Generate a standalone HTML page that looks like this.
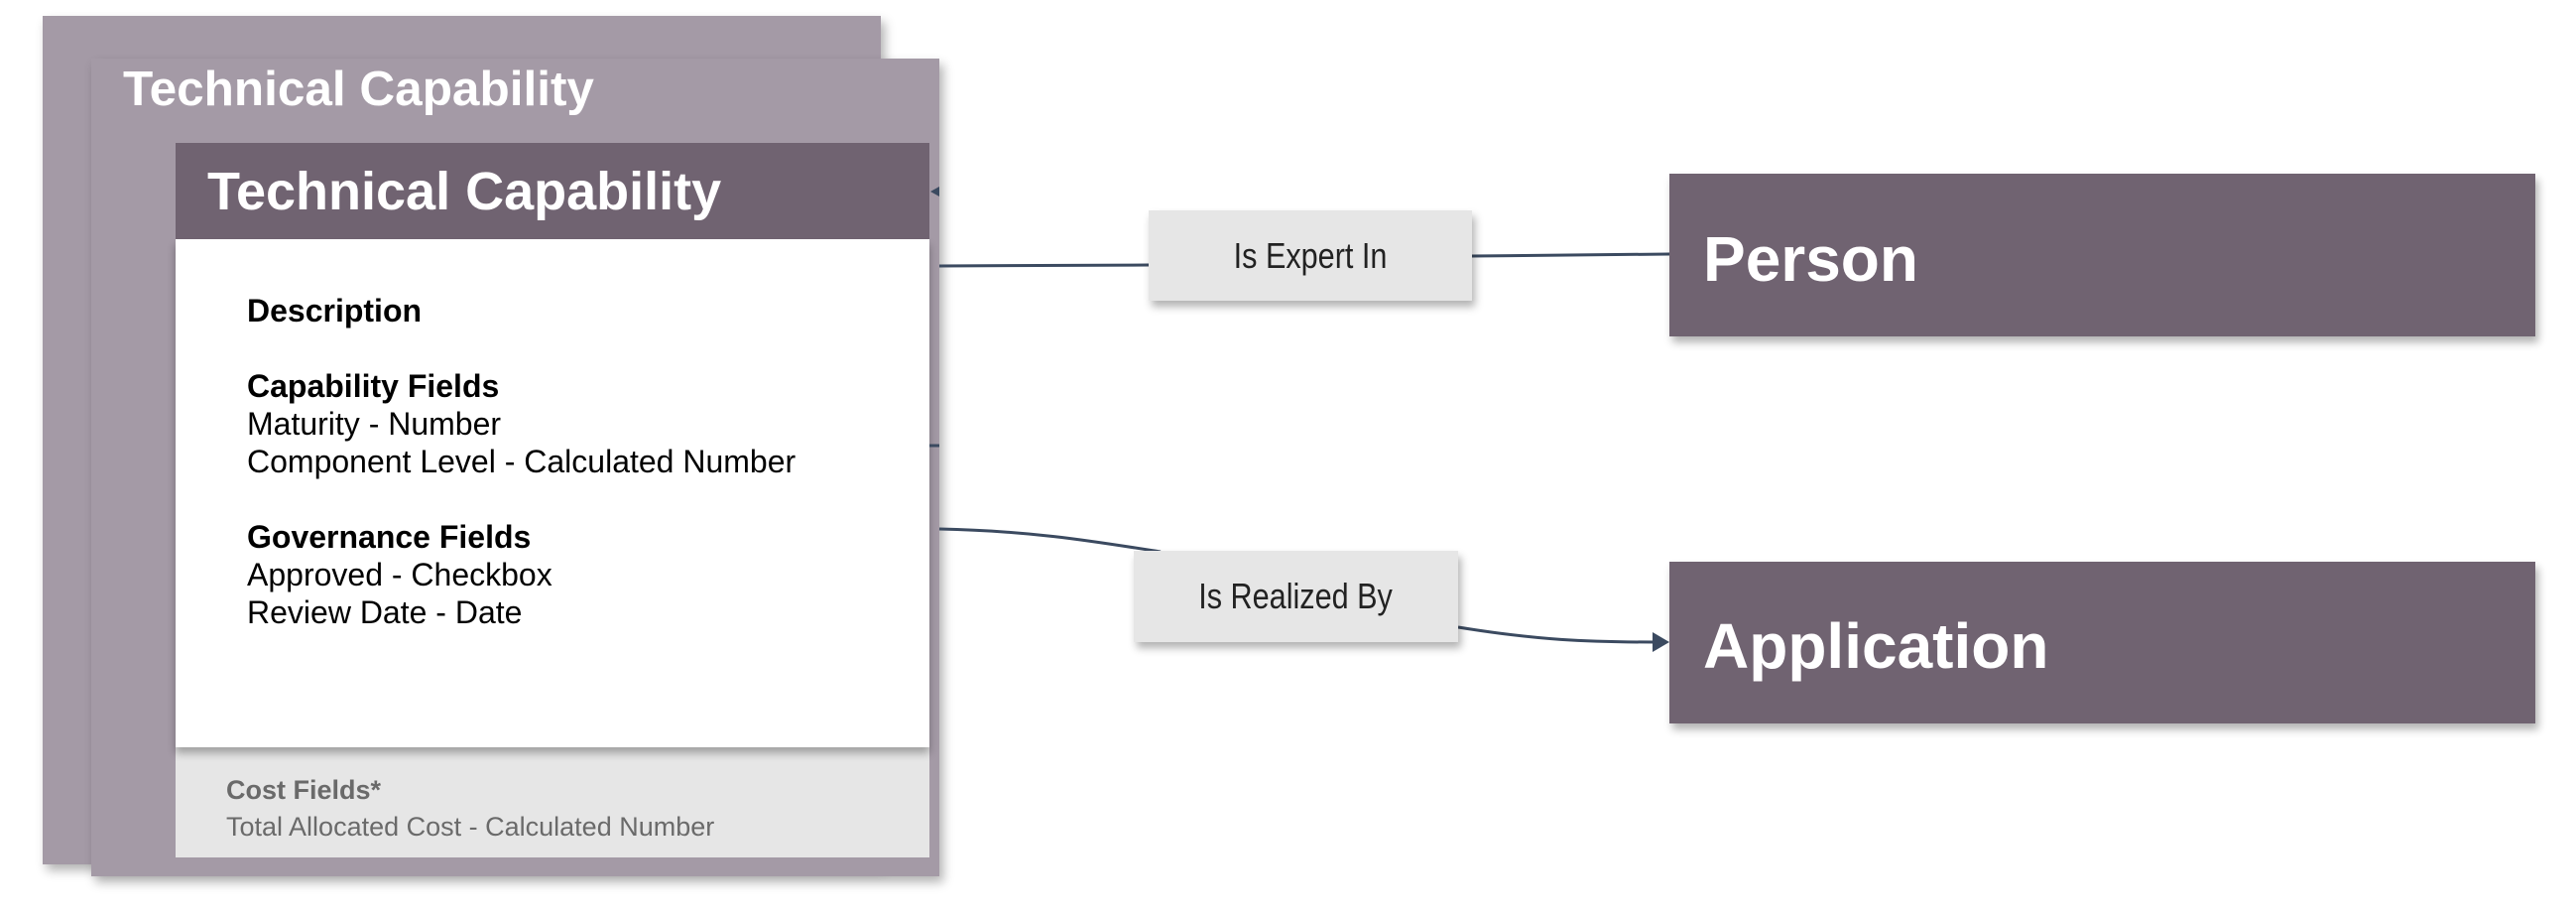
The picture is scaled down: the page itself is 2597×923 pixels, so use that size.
<!DOCTYPE html>
<html><head><meta charset="utf-8"><style>
html,body{margin:0;padding:0;background:#fff;}
body{width:2597px;height:923px;position:relative;overflow:hidden;font-family:"Liberation Sans",Arial,sans-serif;}
.abs{position:absolute;}
.back{background:#a49aa6;box-shadow:4px 6px 10px rgba(0,0,0,0.3);}
.hdr{background:#706371;}
.lbl{background:#e6e6e6;box-shadow:3px 6px 8px rgba(0,0,0,0.3);color:#222;font-size:36px;display:flex;align-items:center;justify-content:center;}
.lbl span{display:inline-block;transform:scaleX(0.85);}
.t{position:absolute;white-space:nowrap;}
</style></head><body>
<div class="abs back" style="left:43px;top:16px;width:845px;height:855px;"></div>
<div class="abs back" style="left:92px;top:59px;width:855px;height:824px;"></div>
<div class="t" style="left:124px;top:61px;font-size:49.5px;font-weight:bold;color:#fff;">Technical Capability</div>
<div class="abs" style="left:177px;top:144px;width:760px;height:720px;background:#e6e6e6;"></div>
<div class="abs" style="left:177px;top:241px;width:760px;height:512px;background:#fff;box-shadow:0 6px 8px rgba(0,0,0,0.3);"></div>
<div class="abs hdr" style="left:177px;top:144px;width:760px;height:97px;"></div>
<div class="t" style="left:209px;top:162px;font-size:54px;font-weight:bold;color:#fff;">Technical Capability</div>
<div class="t" style="left:249px;top:294px;font-size:32px;line-height:38px;color:#000;">
<b>Description</b><br><br><b>Capability Fields</b><br>Maturity - Number<br>Component Level - Calculated Number<br><br><b>Governance Fields</b><br>Approved - Checkbox<br>Review Date - Date
</div>
<div class="t" style="left:228px;top:778px;font-size:27px;line-height:37px;color:#6a6a6a;"><b>Cost Fields*</b><br>Total Allocated Cost - Calculated Number</div>

<svg class="abs" style="left:0;top:0" width="2597" height="923">
<g stroke="#3b4a60" stroke-width="3" fill="none">
<path d="M947 268 L1158 267"/>
<path d="M1484 258 L1683 256"/>
<path d="M947 533 C1040 535 1100 545 1170 556"/>
<path d="M1470 632 C1550 645 1600 647 1668 647"/>
<path d="M937 449 L947 449"/>
</g>
<path d="M1683 647 L1666 637 L1666 657 Z" fill="#3b4a60"/>
<path d="M938 193 L947 188 L947 198 Z" fill="#3b4a60"/>
</svg>

<div class="abs lbl" style="left:1158px;top:212px;width:326px;height:91px;"><span>Is Expert In</span></div>
<div class="abs lbl" style="left:1143px;top:555px;width:327px;height:92px;"><span>Is Realized By</span></div>

<div class="abs hdr" style="left:1683px;top:175px;width:873px;height:164px;box-shadow:3px 6px 8px rgba(0,0,0,0.3);"></div>
<div class="t" style="left:1717px;top:224px;font-size:64px;font-weight:bold;color:#fff;">Person</div>
<div class="abs hdr" style="left:1683px;top:566px;width:873px;height:163px;box-shadow:3px 6px 8px rgba(0,0,0,0.3);"></div>
<div class="t" style="left:1717px;top:614px;font-size:64px;font-weight:bold;color:#fff;">Application</div>
</body></html>
